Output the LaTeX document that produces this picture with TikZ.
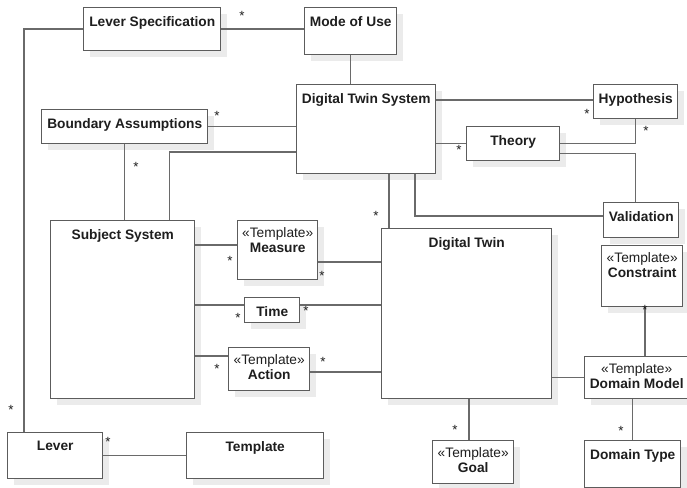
\documentclass[tikz,border=0pt]{standalone}
\usepackage{fontspec}
\setmainfont{Liberation Sans}
\usepackage{tikz}
\usetikzlibrary{calc,shadows}

\definecolor{randgrau}{HTML}{5C5C5C}
\definecolor{liniengrau}{HTML}{6A6A6A}
\definecolor{schatten}{HTML}{EBEBEB}
\definecolor{schrift}{HTML}{1E1E1E}

\begin{document}
\begin{tikzpicture}[x=0.75pt,y=-0.75pt,
  klasse/.style 2 args={draw=randgrau, line width=1.1pt, fill=white,
    anchor=north west, inner sep=0,
    minimum width=#1*0.75pt, minimum height=#2*0.75pt,
    drop shadow={shadow xshift=4.5pt, shadow yshift=-4.5pt,
      fill=schatten, draw=none, opacity=1}},
  titel/.style={anchor=north, yshift=-6.75pt, inner sep=0, text=schrift,
    font=\fontsize{10.3}{11.6}\selectfont\bfseries},
  stereo/.style={anchor=north, yshift=-5.25pt, inner sep=0, align=center,
    text=schrift, font=\fontsize{10.3}{11.6}\selectfont},
  verb/.style={draw=liniengrau, line width=1.1pt},
  mult/.style={inner sep=0, yshift=-2pt, text=schrift,
    font=\fontsize{10}{10}\selectfont}]

\useasboundingbox (0,0) rectangle (687,488);
\clip (0,0) rectangle (687,488);

% Klassen
\node[klasse={137}{43}, label={[titel]north:Lever Specification}] (lspec) at (83,7) {};
\node[klasse={92}{47}, label={[titel]north:Mode of Use}] (mode) at (304,7) {};
\node[klasse={139}{89}, label={[titel]north:Digital Twin System}] (dts) at (296,84) {};
\node[klasse={166}{34}, label={[titel]north:Boundary Assumptions}] (ba) at (41,109) {};
\node[klasse={84}{34}, label={[titel]north:Hypothesis}] (hyp) at (593,84) {};
\node[klasse={93}{34}, label={[titel]north:Theory}] (theory) at (466,126) {};
\node[klasse={75}{35}, label={[titel]north:Validation}] (val) at (603,202) {};
\node[klasse={144}{178}, label={[titel]north:Subject System}] (ss) at (50,220) {};
\node[klasse={170}{170}, label={[titel]north:Digital Twin}] (dt) at (381,228) {};
\node[klasse={55}{25}, label={[titel]north:Time}] (time) at (244,297) {};
\node[klasse={95}{46}, label={[titel]north:Lever}] (lever) at (7,432) {};
\node[klasse={137}{46}, label={[titel]north:Template}] (tmpl) at (186,432) {};
\node[klasse={96}{47}, label={[titel]north:Domain Type}] (dtype) at (584,440) {};

% Klassen mit Stereotyp
\node[klasse={80}{59}, label={[stereo]north:{«Template»\\\textbf{Measure}}}] (meas) at (237,220) {};
\node[klasse={81}{43}, label={[stereo]north:{«Template»\\\textbf{Action}}}] (act) at (228,347) {};
\node[klasse={81}{61}, label={[stereo]north:{«Template»\\\textbf{Constraint}}}] (con) at (601,245) {};
\node[klasse={110}{42}, label={[stereo, xshift=-2.25pt]north:{«Template»\\\textbf{Domain Model}}}] (dm) at (584,356) {};
\node[klasse={81}{43}, label={[stereo]north:{«Template»\\\textbf{Goal}}}] (goal) at (432,440) {};

% Verbindungen oben
\draw[verb] (lspec.east) -- (lspec.east -| mode.west);
\draw[verb] (lspec.west) -| ($(lever.north west)+(17,0)$);
\draw[verb] (mode.south) -- (mode.south |- dts.north);
\draw[verb] (ba.east) -- (ba.east -| dts.west);
\draw[verb] (ba.south) -- (ba.south |- ss.north);
\draw[verb] ($(ss.north east)+(-26,0)$) |- ($(dts.north west)+(0,68)$);
\draw[verb] ($(dts.north east)+(0,16)$) -- ($(hyp.north west)+(0,16)$);
\draw[verb] (theory.west) -- (theory.west -| dts.east);
\draw[verb] (theory.east) -| (hyp.south);
\draw[verb] ($(theory.south east)+(0,-8)$) -| (hyp.south |- val.north);
\draw[verb] ($(dts.south west)+(119,0)$) |- ($(val.north west)+(0,14)$);
\draw[verb] ($(dts.south west)+(93,0)$) coordinate (d1) -- (d1 |- dt.north);

% Verbindungen Mitte
\draw[verb] ($(meas.north west)+(0,25)$) coordinate (m1) -- (m1 -| ss.east);
\draw[verb] ($(meas.north east)+(0,42)$) coordinate (m2) -- (m2 -| dt.west);
\draw[verb] ($(time.north west)+(0,8)$) coordinate (t1) -- (t1 -| ss.east);
\draw[verb] ($(time.north east)+(0,8)$) coordinate (t2) -- (t2 -| dt.west);
\draw[verb] ($(act.north west)+(0,9)$) coordinate (a1) -- (a1 -| ss.east);
\draw[verb] ($(act.north east)+(0,25)$) coordinate (a2) -- (a2 -| dt.west);

% Verbindungen unten
\draw[verb] (dm.west) -- (dm.west -| dt.east);
\draw[verb] ($(goal.north west)+(37,0)$) coordinate (g1) -- (g1 |- dt.south);
\draw[verb] ($(con.south west)+(44,0)$) coordinate (c1) -- (c1 |- dm.north);
\draw[verb] (dtype.north) -- (dtype.north |- dm.south);
\draw[verb] (lever.east) -- (lever.east -| tmpl.west);

% Multiplizitaeten
\foreach \p [count=\i] in {(242,13), (217,113), (136,164), (587,111), (459,147),
    (646,128), (376,213), (230,258), (322,273), (238,315), (306,308), (217,366),
    (323,359), (11,407), (108,439), (455,427), (645,307), (621,428)}
  \node[mult] (s\i) at \p {*};

\end{tikzpicture}
\end{document}
